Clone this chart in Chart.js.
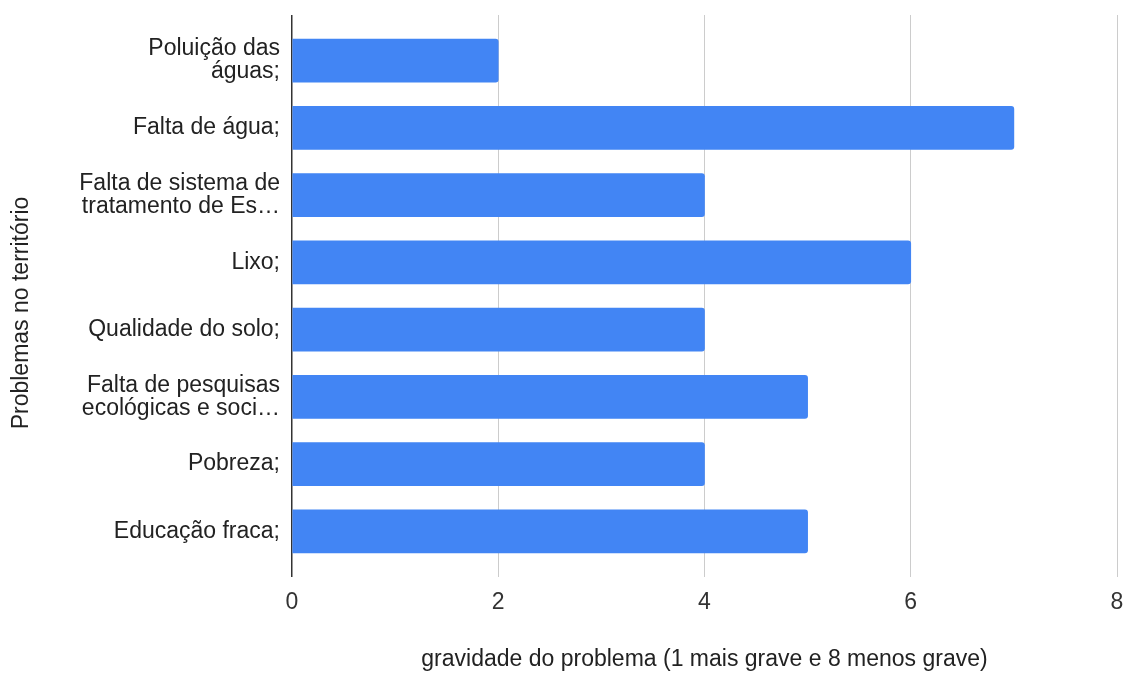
<!DOCTYPE html>
<html>
<head>
<meta charset="utf-8">
<script src="https://cdn.jsdelivr.net/npm/chart.js@4"></script>
<style>
  html, body { margin: 0; padding: 0; background: #fff; }
  #wrap { width: 1128px; height: 673px; }
</style>
</head>
<body>
<div id="wrap"><canvas id="chart"></canvas></div>
<script>
// problem categories, top to bottom
const problemas = [
  ['Poluição das', 'águas;'],
  'Falta de água;',
  ['Falta de sistema de', 'tratamento de Es…'],
  'Lixo;',
  'Qualidade do solo;',
  ['Falta de pesquisas', 'ecológicas e soci…'],
  'Pobreza;',
  'Educação fraca;'
];
const gravidade = [2, 7, 4, 6, 4, 5, 4, 5];
const xTicks = [0, 2, 4, 6, 8];

const xTitle = 'gravidade do problema (1 mais grave e 8 menos grave)';
const yTitle = 'Problemas no território';

const FONT = 'Arial, "Liberation Sans", sans-serif';
const FSIZE = 23;

// same half-pixel snapping Chart.js uses for grid lines
const snap = (px, w) => Math.round(px - w / 2) + w / 2;

// grid lines reach a bit above the plot, and axis titles are placed by hand
const extras = {
  id: 'extras',
  beforeDatasetsDraw(chart) {
    const ctx = chart.ctx;
    const x = chart.scales.x;
    const top = chart.chartArea.top;
    ctx.save();
    xTicks.forEach(v => {
      const w = v === 0 ? 1.5 : 1;
      const px = snap(x.getPixelForValue(v), w);
      ctx.strokeStyle = v === 0 ? '#333333' : '#cccccc';
      ctx.lineWidth = w;
      ctx.beginPath();
      ctx.moveTo(px, top - 12);
      ctx.lineTo(px, top);
      ctx.stroke();
    });
    ctx.restore();
  },
  afterDraw(chart) {
    const ctx = chart.ctx;
    ctx.save();
    ctx.fillStyle = '#222222';
    ctx.font = FSIZE + 'px ' + FONT;
    ctx.textAlign = 'center';
    ctx.textBaseline = 'middle';
    const area = chart.chartArea;
    ctx.fillText(xTitle, (area.left + area.right) / 2, 660);
    ctx.translate(22, 313);
    ctx.rotate(-Math.PI / 2);
    ctx.fillText(yTitle, 0, 0);
    ctx.restore();
  }
};

new Chart(document.getElementById('chart'), {
  type: 'bar',
  data: {
    labels: problemas,
    datasets: [{
      data: gravidade,
      backgroundColor: '#4285f4',
      borderRadius: 3,
      barThickness: 43
    }]
  },
  plugins: [extras],
  options: {
    indexAxis: 'y',
    responsive: true,
    maintainAspectRatio: false,
    animation: false,
    layout: { padding: { top: 27, right: 0, left: 0, bottom: 0 } },
    plugins: {
      legend: { display: false },
      tooltip: { enabled: false }
    },
    scales: {
      x: {
        min: 0,
        max: 8,
        afterFit: s => { s.height = 108; s.paddingRight = 11; s.paddingLeft = 0; },
        afterBuildTicks: s => { s.ticks = xTicks.map(v => ({ value: v })); },
        border: { display: false },
        grid: {
          color: c => (c.tick && c.tick.value === 0) ? '#333333' : '#cccccc',
          lineWidth: c => (c.tick && c.tick.value === 0) ? 1.5 : 1,
          tickLength: 12
        },
        ticks: {
          color: '#333333',
          font: { family: FONT, size: FSIZE },
          padding: 12
        }
      },
      y: {
        afterFit: s => { s.width = 292; },
        border: { display: false },
        grid: { display: false },
        ticks: {
          color: '#222222',
          font: { family: FONT, size: FSIZE, lineHeight: 1.0 },
          padding: 4
        }
      }
    }
  }
});
</script>
</body>
</html>
